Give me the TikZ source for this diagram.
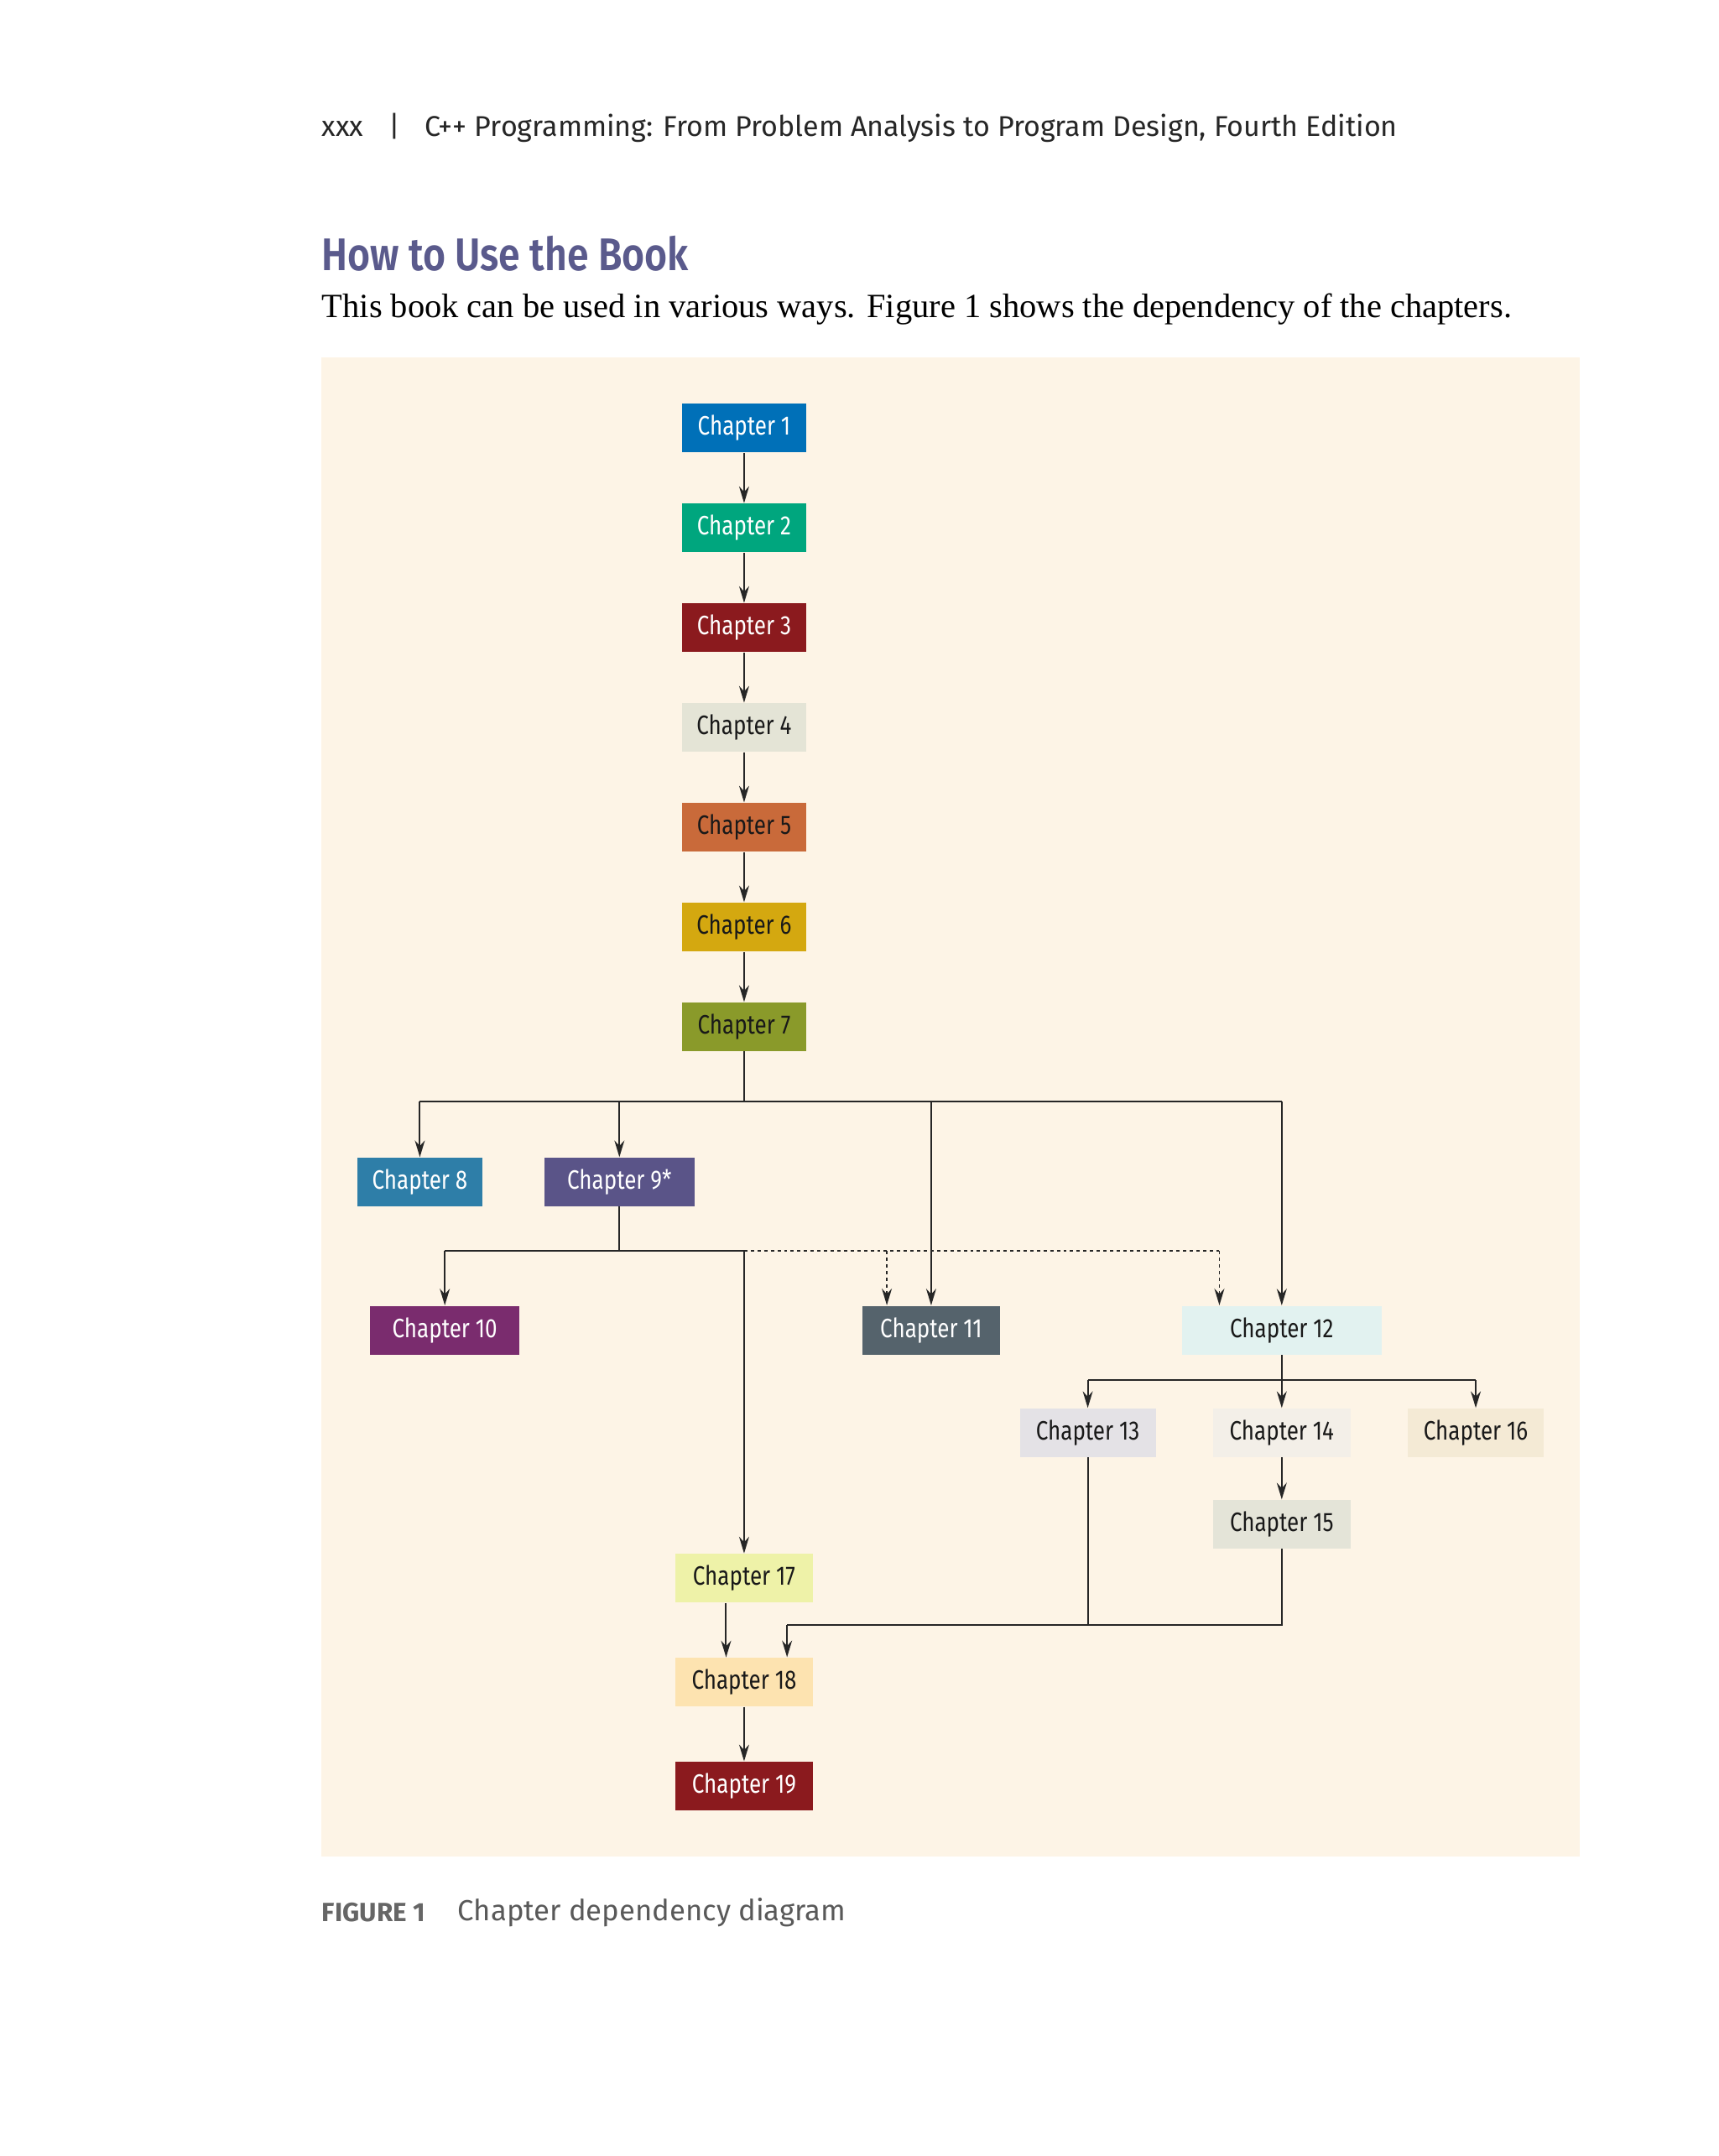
\documentclass[tikz,border=0pt]{standalone}
\usepackage{fontspec}
\setmainfont{Liberation Serif}
\newfontfamily\boxfont[FakeStretch=0.82]{Fira Sans}
\newfontfamily\headfont{Fira Sans}
\newfontfamily\titlefont[FakeStretch=0.85]{Fira Sans SemiBold}
\usetikzlibrary{arrows.meta}
\definecolor{bg}{HTML}{FDF4E6}
\definecolor{ttl}{HTML}{5A5A8C}
\definecolor{k1}{HTML}{0070B8}
\definecolor{k2}{HTML}{00A67E}
\definecolor{k3}{HTML}{8B1A1E}
\definecolor{k4}{HTML}{E4E4D6}
\definecolor{k5}{HTML}{C96A3A}
\definecolor{k6}{HTML}{D4A810}
\definecolor{k7}{HTML}{8A9A2A}
\definecolor{k8}{HTML}{2E7EA8}
\definecolor{k9}{HTML}{5A5488}
\definecolor{k10}{HTML}{7A2C6E}
\definecolor{k11}{HTML}{55636C}
\definecolor{k12}{HTML}{E2F2F0}
\definecolor{k13}{HTML}{E4E2E6}
\definecolor{k14}{HTML}{F3EFE8}
\definecolor{k15}{HTML}{E4E4D8}
\definecolor{k16}{HTML}{F4EAD5}
\definecolor{k17}{HTML}{EEF2A8}
\definecolor{k18}{HTML}{FDE3B0}
\tikzset{
 ch/.style={fill=#1,minimum height=17.5pt,inner sep=0pt,font=\boxfont\fontsize{9.6}{10}\selectfont},
 wt/.style={text=white}, bk/.style={text=black!90},
 ln/.style={draw=black!85,line width=0.6pt},
 ar/.style={ln,-{Stealth[length=6pt,width=3.6pt]}},
 dt/.style={ar,dash pattern=on 1.2pt off 1.2pt}
}
\begin{document}
\begin{tikzpicture}[x=0.5pt,y=-0.5pt]
\useasboundingbox (0,0) rectangle (1240,1556);
\fill[white] (0,0) rectangle (1240,1556);
\fill[bg] (232,258) rectangle (1140,1340);
\node[anchor=west,font=\headfont\fontsize{10.3}{12}\selectfont,text=black!85,inner sep=0] (hdr) at (232,92) {xxx\hspace{9pt}|\hspace{9pt}C++ Programming: From Problem Analysis to Program Design, Fourth Edition};
\node[anchor=west,font=\titlefont\fontsize{16.5}{18}\selectfont,text=ttl,inner sep=0] (title) at (232,183) {How to Use the Book};
\node[anchor=west,font=\fontsize{12.25}{14}\selectfont,inner sep=0] (intro) at (232,223) {This book can be used in various ways. Figure 1 shows the dependency of the chapters.};
\node[anchor=west,font=\headfont\bfseries\fontsize{9.5}{11}\selectfont,text=black!60,inner sep=0] (figl) at (232,1380) {FIGURE 1};
\node[anchor=west,font=\headfont\fontsize{10.5}{12}\selectfont,text=black!65,inner sep=0] (figc) at (330,1380) {Chapter dependency diagram};

\node[ch=k1,wt,minimum width=45pt] (c1) at (537,309) {Chapter 1};
\node[ch=k2,wt,minimum width=45pt] (c2) at (537,381) {Chapter 2};
\node[ch=k3,wt,minimum width=45pt] (c3) at (537,453) {Chapter 3};
\node[ch=k4,bk,minimum width=45pt] (c4) at (537,525) {Chapter 4};
\node[ch=k5,bk,minimum width=45pt] (c5) at (537,597) {Chapter 5};
\node[ch=k6,bk,minimum width=45pt] (c6) at (537,669) {Chapter 6};
\node[ch=k7,bk,minimum width=45pt] (c7) at (537,741) {Chapter 7};
\node[ch=k8,wt,minimum width=45pt] (c8) at (303,853) {Chapter 8};
\node[ch=k9,wt,minimum width=54pt] (c9) at (447,853) {Chapter 9*};
\node[ch=k10,wt,minimum width=54pt] (c10) at (321,960) {Chapter 10};
\node[ch=k11,wt,minimum width=49.5pt] (c11) at (672,960) {Chapter 11};
\node[ch=k12,bk,minimum width=72pt] (c12) at (925,960) {Chapter 12};
\node[ch=k13,bk,minimum width=49pt] (c13) at (785,1034) {Chapter 13};
\node[ch=k14,bk,minimum width=49.5pt] (c14) at (925,1034) {Chapter 14};
\node[ch=k16,bk,minimum width=49pt] (c16) at (1065,1034) {Chapter 16};
\node[ch=k15,bk,minimum width=49.5pt] (c15) at (925,1100) {Chapter 15};
\node[ch=k17,bk,minimum width=49.5pt] (c17) at (537,1139) {Chapter 17};
\node[ch=k18,bk,minimum width=49.5pt] (c18) at (537,1214) {Chapter 18};
\node[ch=k3,wt,minimum width=49.5pt] (c19) at (537,1289) {Chapter 19};

\foreach \a/\b in {c1/c2,c2/c3,c3/c4,c4/c5,c5/c6,c6/c7,c14/c15,c18/c19} \draw[ar] (\a) -- (\b);
% chapter 7 branch
\coordinate (b7) at (537,795);
\draw[ln] (c7.south) -- (b7);
\draw[ln] (303,795) -- (925,795);
\draw[ar] (303,795) -- (c8.north);
\draw[ar] (447,795) -- (c9.north);
\draw[ar] (672,795) -- (c11.north);
\draw[ar] (925,795) -- (c12.north);
% chapter 9 branch
\coordinate (b9) at (447,903);
\draw[ln] (c9.south) -- (b9);
\draw[ln] (321,903) -- (537,903);
\draw[ar] (321,903) -- (c10.north);
\draw[ar] (537,903) -- (c17.north);
\draw[ln,dash pattern=on 1.2pt off 1.2pt] (537,903) -- (880,903);
\draw[dt] (640,903) -- (640,942);
\draw[dt] (880,903) -- (880,942);
% chapter 12 branch
\draw[ln] (c12.south) -- (925,996);
\draw[ln] (785,996) -- (1065,996);
\draw[ar] (785,996) -- (c13.north);
\draw[ar] (925,996) -- (c14.north);
\draw[ar] (1065,996) -- (c16.north);
% to chapter 18
\draw[ar] ([xshift=-6.5pt]c17.south) -- ([xshift=-6.5pt]c18.north);
\draw[ln] (c13.south) -- (785,1173);
\draw[ln] (c15.south) -- (925,1173) -- (568,1173);
\draw[ar] (568,1173) -- (568,1196);
\end{tikzpicture}
\end{document}
